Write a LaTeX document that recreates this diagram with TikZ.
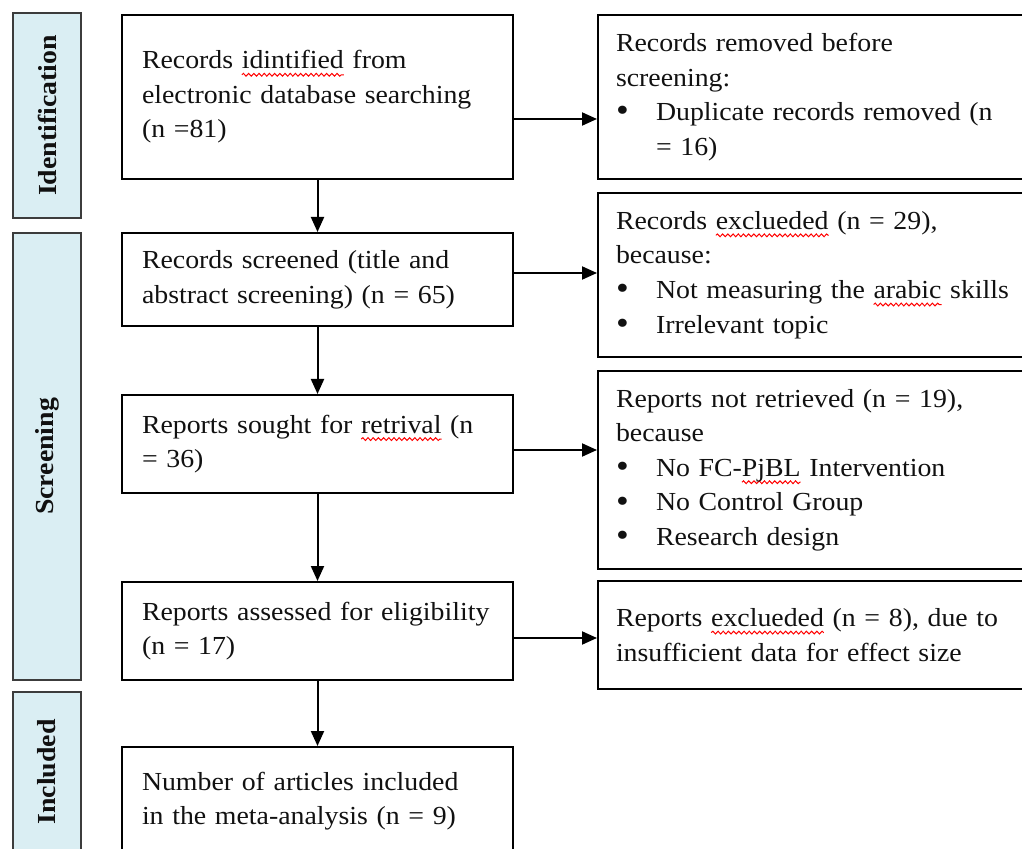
\documentclass[tikz,border=0pt]{standalone}
\usepackage{fontspec}
\setmainfont{Liberation Serif}[FakeStretch=1.07]
\usetikzlibrary{arrows.meta,decorations.pathmorphing}
\newsavebox\sqbox
\newcommand\sq[1]{\sbox\sqbox{#1}\tikz[overlay,baseline=0pt]{\draw[red, line width=0.5pt, decorate, decoration={snake, amplitude=0.7pt, segment length=2.6pt}] (0pt,-3pt) -- (\wd\sqbox,-3pt);}\usebox\sqbox}
\newcommand\bul{\makebox[20pt][l]{\raisebox{-0.6pt}{\fontsize{17}{17}\selectfont\textbullet}}}
\definecolor{barfill}{HTML}{DAEEF3}
\definecolor{bardraw}{HTML}{3C3C3C}
\definecolor{ink}{HTML}{111111}
\tikzset{
  base/.style={font=\fontsize{13}{17.3}\selectfont, text=ink},
  lbox/.style={base, draw=black, line width=1pt, anchor=west, inner xsep=10pt, inner ysep=0pt, text width=175.5pt, align=left},
  rbox/.style={base, draw=black, line width=1pt, anchor=west, inner xsep=9pt, inner ysep=0pt, text width=205pt, align=left},
  bar/.style={draw=bardraw, fill=barfill, line width=1pt, rotate=90, minimum height=34pt, inner sep=0pt, text=ink, font=\fontsize{13}{15}\selectfont\bfseries},
  arr/.style={line width=1pt, -{Triangle[length=7.5pt,width=6.5pt]}},
}
\begin{document}
\begin{tikzpicture}[x=0.5pt,y=-0.5pt]
\useasboundingbox (0,0) rectangle (1022,849);
\clip (0,0) rectangle (1022,849);

% phase bars
\node[bar, minimum width=102.5pt] (id) at (47,115.5) {Identification};
\node[bar, minimum width=223.5pt] (sc) at (47,456.5) {Screening};
\node[bar, minimum width=80pt] (inc) at (47,772) {Included};

% left column
\node[lbox, minimum height=82pt] (b1) at (121,97) {Records \sq{idintified} from\\ electronic database searching\\ (n =81)};
\node[lbox, minimum height=46.5pt] (b2) at (121,279.5) {Records screened (title and\\ abstract screening) (n = 65)};
\node[lbox, minimum height=49pt] (b3) at (121,444) {Reports sought for \sq{retrival} (n\\ = 36)};
\node[lbox, minimum height=49pt] (b4) at (121,631) {Reports assessed for eligibility\\ (n = 17)};
\node[lbox, minimum height=54pt] (b5) at (121,801) {Number of articles included\\ in the meta-analysis (n = 9)};

% right column
\node[rbox, minimum height=82pt] (r1) at (597,97) {Records removed before\\ screening:\\ \bul Duplicate records removed (n\\ \hspace*{20pt}= 16)};
\node[rbox, minimum height=82pt] (r2) at (597,275) {Records \sq{exclueded} (n = 29),\\ because:\\ \bul Not measuring the \sq{arabic} skills\\ \bul Irrelevant topic};
\node[rbox, minimum height=99pt] (r3) at (597,470) {Reports not retrieved (n = 19),\\ because\\ \bul No FC-\sq{PjBL} Intervention\\ \bul No Control Group\\ \bul Research design};
\node[rbox, minimum height=54pt] (r4) at (597,635) {Reports \sq{exclueded} (n = 8), due to\\ insufficient data for effect size};

% arrow levels
\coordinate (h1) at (0,119);
\coordinate (h2) at (0,273);
\coordinate (h3) at (0,450);
\coordinate (h4) at (0,638);

\draw[arr] (b1.east |- h1) -- (r1.west |- h1);
\draw[arr] (b2.east |- h2) -- (r2.west |- h2);
\draw[arr] (b3.east |- h3) -- (r3.west |- h3);
\draw[arr] (b4.east |- h4) -- (r4.west |- h4);

\draw[arr] (b1.south) -- (b2.north);
\draw[arr] (b2.south) -- (b3.north);
\draw[arr] (b3.south) -- (b4.north);
\draw[arr] (b4.south) -- (b5.north);
\end{tikzpicture}
\end{document}
